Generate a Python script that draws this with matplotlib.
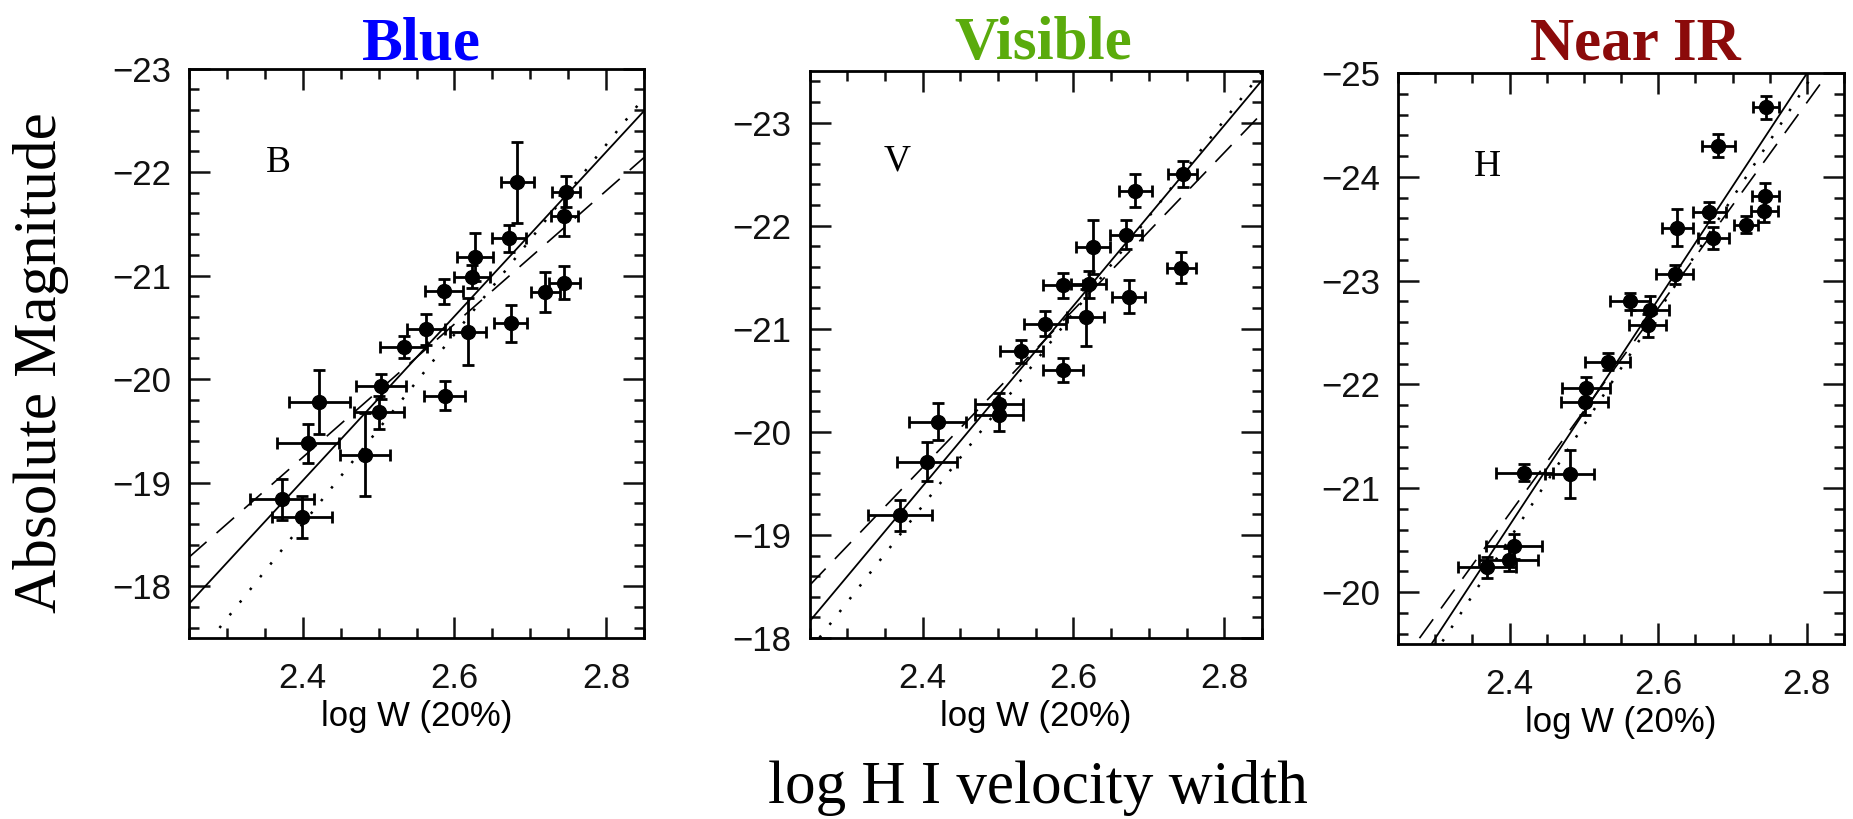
import matplotlib
matplotlib.use("Agg")
import matplotlib.pyplot as plt
from matplotlib.ticker import MultipleLocator

# --- data ---
# B band
logw_b = [2.683, 2.747, 2.745, 2.672, 2.627, 2.623, 2.586, 2.720, 2.745, 2.674, 2.618,
          2.563, 2.533, 2.503, 2.501, 2.587, 2.422, 2.407, 2.482, 2.373, 2.399]
mag_b = [-21.90, -21.81, -21.58, -21.36, -21.18, -20.99, -20.85, -20.84, -20.93, -20.54, -20.46,
         -20.48, -20.31, -19.93, -19.68, -19.84, -19.78, -19.38, -19.27, -18.84, -18.67]
xerr_b = [0.022, 0.018, 0.018, 0.022, 0.024, 0.024, 0.025, 0.019, 0.020, 0.022, 0.024,
          0.025, 0.031, 0.033, 0.033, 0.027, 0.040, 0.041, 0.033, 0.042, 0.040]
yerr_b = [0.39, 0.15, 0.20, 0.13, 0.23, 0.11, 0.12, 0.19, 0.16, 0.18, 0.32,
          0.15, 0.11, 0.12, 0.16, 0.14, 0.31, 0.19, 0.40, 0.20, 0.20]

# V band
logw_v = [2.745, 2.682, 2.670, 2.626, 2.743, 2.586, 2.620, 2.673, 2.616, 2.562, 2.531,
          2.586, 2.501, 2.501, 2.420, 2.406, 2.370]
mag_v = [-22.50, -22.34, -21.91, -21.79, -21.59, -21.42, -21.43, -21.31, -21.11, -21.05, -20.78,
         -20.60, -20.27, -20.16, -20.10, -19.71, -19.19]
xerr_v = [0.019, 0.022, 0.021, 0.023, 0.019, 0.027, 0.023, 0.022, 0.025, 0.028, 0.029,
          0.027, 0.032, 0.032, 0.038, 0.040, 0.042]
yerr_v = [0.13, 0.16, 0.14, 0.26, 0.15, 0.12, 0.13, 0.16, 0.28, 0.12, 0.11,
          0.12, 0.11, 0.15, 0.18, 0.19, 0.15]

# H band
logw_h = [2.745, 2.681, 2.744, 2.743, 2.718, 2.669, 2.674, 2.626, 2.622, 2.562, 2.589,
          2.586, 2.532, 2.503, 2.501, 2.420, 2.481, 2.406, 2.399, 2.370]
mag_h = [-24.67, -24.30, -23.82, -23.67, -23.54, -23.66, -23.41, -23.51, -23.06, -22.80, -22.72,
         -22.57, -22.22, -21.97, -21.83, -21.15, -21.14, -20.44, -20.31, -20.24]
xerr_h = [0.017, 0.022, 0.018, 0.018, 0.016, 0.022, 0.021, 0.021, 0.025, 0.027, 0.025,
          0.025, 0.030, 0.032, 0.032, 0.038, 0.033, 0.038, 0.040, 0.039]
yerr_h = [0.11, 0.11, 0.12, 0.11, 0.08, 0.10, 0.11, 0.18, 0.09, 0.08, 0.13,
          0.11, 0.08, 0.10, 0.12, 0.08, 0.23, 0.12, 0.11, 0.10]

# fit lines (end points): solid, dashed, dotted
fit_x = [2.25, 2.85]
solid_b, dash_b, dot_b = [-17.83, -22.59], [-18.28, -22.14], [-17.23, -22.72]
solid_v, dash_v, dot_v = [-18.16, -23.41], [-18.51, -23.09], [-17.88, -23.49]
solid_h, dash_h, dot_h = [-19.01, -25.54], [-19.27, -25.21], [-18.87, -25.44]

titles = ["Blue", "Visible", "Near IR"]
title_colors = ["#0000ff", "#5aab0c", "#8b0a0a"]
band_names = ["B", "V", "H"]
ylims = [(-17.5, -23.0), (-18.0, -23.5), (-19.5, -25.0)]
letter_pos = [(2.368, -22.09), (2.366, -22.62), (2.370, -24.10)]

panels = [
    (logw_b, mag_b, xerr_b, yerr_b, solid_b, dash_b, dot_b),
    (logw_v, mag_v, xerr_v, yerr_v, solid_v, dash_v, dot_v),
    (logw_h, mag_h, xerr_h, yerr_h, solid_h, dash_h, dot_h),
]

W, H = 1853, 819
# axes boxes in pixels: left, top, right, bottom
boxes = [(189, 68.5, 644, 638), (809.5, 71, 1262, 638), (1398, 73, 1844, 644)]
title_x = [421, 1043, 1635]

tick_font = "Liberation Sans"

fig = plt.figure(figsize=(W / 100, H / 100), dpi=100)

for i, (x, y, xe, ye, s, d, o) in enumerate(panels):
    l, t, r, b = boxes[i]
    ax = fig.add_axes([l / W, 1 - b / H, (r - l) / W, (b - t) / H])
    ax.errorbar(x, y, xerr=xe, yerr=ye, fmt='o', color='black', ms=10,
                elinewidth=2, capsize=4.5, capthick=2, zorder=3)
    ax.plot(fit_x, s, color='black', lw=1.3, ls='-')
    ax.plot(fit_x, d, color='black', lw=1.2, ls=(0, (14, 8)))
    ax.plot(fit_x, o, color='black', lw=1.8, ls=(0, (1, 5.5)))

    ax.set_xlim(2.25, 2.85)
    ax.set_ylim(*ylims[i])
    ax.xaxis.set_major_locator(MultipleLocator(0.2))
    ax.xaxis.set_minor_locator(MultipleLocator(0.05))
    ax.yaxis.set_major_locator(MultipleLocator(1))
    ax.yaxis.set_minor_locator(MultipleLocator(0.2))
    ax.tick_params(which='both', direction='in', top=True, right=True, width=1.8, colors='#111111')
    ax.tick_params(which='major', length=15)
    ax.tick_params(which='minor', length=7.5)
    ax.tick_params(axis='x', which='major', pad=17)
    ax.tick_params(axis='y', which='major', pad=13)
    for lab in ax.get_xticklabels() + ax.get_yticklabels():
        lab.set_fontfamily(tick_font)
        lab.set_fontsize(25)
    for sp in ax.spines.values():
        sp.set_linewidth(2)
    ax.set_xlabel("log W (20%)", fontfamily=tick_font, fontsize=25, labelpad=4)

    lx, ly = letter_pos[i]
    ax.text(lx, ly, band_names[i], fontfamily="Liberation Serif", fontsize=27,
            ha='center', va='center')

    fig.text(title_x[i] / W, 1 - 59 / H, titles[i], color=title_colors[i],
             fontfamily="Liberation Serif", fontweight='bold', fontsize=44,
             ha='center', va='baseline')

fig.text(56 / W, 1 - 363 / H, "Absolute Magnitude", rotation=90, rotation_mode='anchor',
         fontfamily="Liberation Serif", fontsize=44, ha='center', va='baseline')
fig.text(1038 / W, 1 - 803 / H, "log H I velocity width",
         fontfamily="Liberation Serif", fontsize=44, ha='center', va='baseline')

fig.savefig("out.png", dpi=100)
